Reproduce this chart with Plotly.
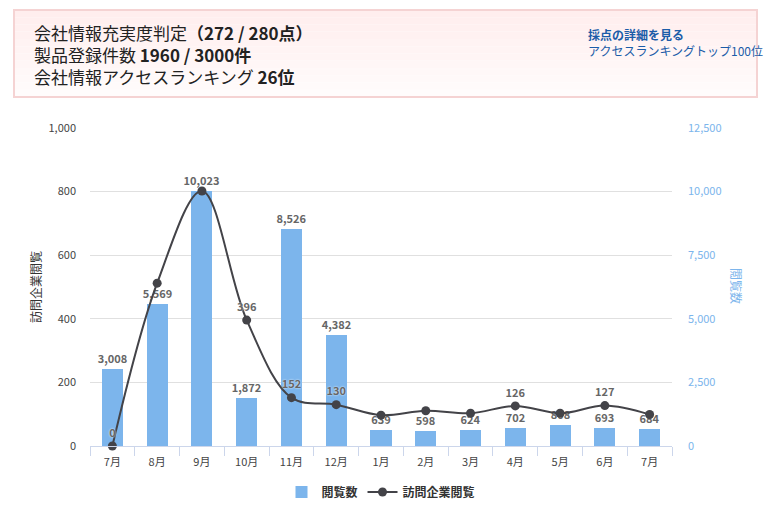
import plotly.graph_objects as go

# ---- data ----
months = ["7月", "8月", "9月", "10月", "11月", "12月", "1月", "2月", "3月", "4月", "5月", "6月", "7月"]
views = [3008, 5569, 10023, 1872, 8526, 4382, 639, 598, 624, 702, 808, 693, 684]
company_views = [0, 512, 802, 396, 152, 130, 97, 111, 103, 126, 103, 127, 99]
company_label_shown = [True, False, False, True, True, True, False, False, False, True, False, True, False]

left_ticks = [0, 200, 400, 600, 800, 1000]
right_ticks = [0, 2500, 5000, 7500, 10000, 12500]

# ---- geometry helpers (page pixels -> paper); page body has an 8px margin ----
OFF = 8
W, H = 772 - OFF, 515 - OFF
PL, PR, PT, PB = 90, 672, 128, 446   # plot area in page pixels
def px(x):
    return (x - PL) / (PR - PL)
def py(y):
    return (PB - y) / (PB - PT)

FONT = "Noto Sans CJK JP, Noto Sans, sans-serif"
xs = list(range(len(months)))

fig = go.Figure()
fig.add_trace(go.Bar(
    x=xs, y=views, name="閲覧数", yaxis="y",
    marker=dict(color="#7cb5ec", line=dict(width=0)),
    width=0.47,
    text=[f"{v:,}" for v in views], textposition="outside", constraintext="none",
    textfont=dict(family=FONT, size=11, color="#666666", weight="bold", shadow="0px 0px 2px white"),
    cliponaxis=False,
))
fig.add_trace(go.Scatter(
    x=xs, y=company_views, name="訪問企業閲覧", yaxis="y2",
    mode="lines+markers+text",
    line=dict(color="#434348", width=2, shape="spline", smoothing=1.0),
    marker=dict(color="#434348", size=9),
    text=[str(v) if s else "" for v, s in zip(company_views, company_label_shown)],
    textposition="top center",
    textfont=dict(family=FONT, size=11, color="#666666", weight="bold", shadow="0px 0px 2px white"),
    cliponaxis=False,
))

fig.update_layout(
    width=W, height=H,
    margin=dict(l=PL - OFF, r=(W + OFF) - PR, t=PT - OFF, b=(H + OFF) - PB, autoexpand=False),
    paper_bgcolor="white", plot_bgcolor="white",
    font=dict(family=FONT, color="#333333"),
    bargap=0,
    showlegend=True,
    legend=dict(orientation="h", x=0.5, xanchor="center", y=py(492), yanchor="middle",
                font=dict(family=FONT, size=12, color="#333333", weight="bold"),
                traceorder="normal"),
    xaxis=dict(
        range=[-0.5, len(months) - 0.5], automargin=False,
        tickmode="array", tickvals=xs, ticktext=months,
        ticks="", showgrid=False, zeroline=False,
        showline=True, linecolor="#ccd6eb", linewidth=1,
        tickfont=dict(family=FONT, size=11, color="#444444"),
        ticklabelstandoff=6,
        minor=dict(tickmode="array", tickvals=[i - 0.5 for i in range(len(months) + 1)],
                   ticks="outside", ticklen=9, tickcolor="#ccd6eb", tickwidth=1, showgrid=False),
    ),
    yaxis=dict(
        side="right", range=[0, right_ticks[-1]], automargin=False,
        tickmode="array", tickvals=right_ticks, ticktext=[f"{v:,}" for v in right_ticks],
        showgrid=True, gridcolor="#e0e0e0", gridwidth=1, zeroline=False,
        tickfont=dict(family=FONT, size=11, color="#7cb5ec"),
        ticks="", ticklabelstandoff=15,
    ),
    yaxis2=dict(
        side="left", overlaying="y", range=[0, left_ticks[-1]], automargin=False,
        tickmode="array", tickvals=left_ticks, ticktext=[f"{v:,}" for v in left_ticks],
        showgrid=False, zeroline=False,
        tickfont=dict(family=FONT, size=11, color="#444444"),
        ticks="", ticklabelstandoff=13,
    ),
)

# header box (pseudo gradient)
x0, x1 = px(14), px(757)
top, bot = 10, 97
n = 12
for i in range(n):
    t = i / (n - 1)
    g = int(238 + (252 - 238) * t)
    ya = top + (bot - top) * i / n
    yb = top + (bot - top) * (i + 1) / n
    fig.add_shape(type="rect", xref="paper", yref="paper", x0=x0, x1=x1, y0=py(yb), y1=py(ya),
                  fillcolor=f"rgb(255,{g},{g})", line=dict(width=0), layer="below")
fig.add_shape(type="rect", xref="paper", yref="paper", x0=x0, x1=x1, y0=py(bot), y1=py(top),
              fillcolor="rgba(0,0,0,0)", line=dict(color="#f5d3d3", width=2))

fig.add_annotation(xref="paper", yref="paper", x=px(32), y=py(55), xanchor="left", yanchor="middle",
                   align="left", showarrow=False,
                   text="会社情報充実度判定<b>（272 / 280点）</b><br>製品登録件数 <b>1960 / 3000件</b><br>"
                        "会社情報アクセスランキング <b>26位</b>",
                   font=dict(family=FONT, size=17, color="#222222"))
fig.add_annotation(xref="paper", yref="paper", x=px(586), y=py(43), xanchor="left", yanchor="middle",
                   align="left", showarrow=False,
                   text="<b>採点の詳細を見る</b><br>アクセスランキングトップ100位",
                   font=dict(family=FONT, size=12, color="#1b5ca8"))

# axis titles
fig.add_annotation(xref="paper", yref="paper", x=px(35), y=py(287), xanchor="center", yanchor="middle",
                   text="訪問企業閲覧", textangle=-90, showarrow=False,
                   font=dict(family=FONT, size=12, color="#333333"))
fig.add_annotation(xref="paper", yref="paper", x=px(737), y=py(286), xanchor="center", yanchor="middle",
                   text="閲覧数", textangle=90, showarrow=False,
                   font=dict(family=FONT, size=12, color="#7cb5ec"))

fig.write_html("out.html")
